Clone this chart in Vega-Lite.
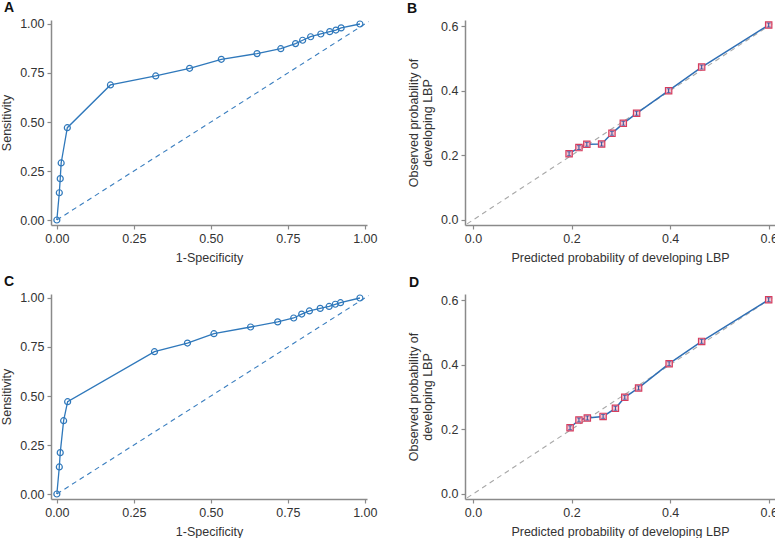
{
  "$schema": "https://vega.github.io/schema/vega-lite/v6.json",
  "autosize": {"type": "pad"},
  "padding": {"left": 0, "top": 0, "right": 0, "bottom": 0},
  "background": "white",
  "bounds": "flush",
  "columns": 2,
  "spacing": {"row": 69, "column": 98},
  "datasets": {
    "rocA": [
      {"fpr": 0, "tpr": 0}, {"fpr": 0.008, "tpr": 0.139}, {"fpr": 0.011, "tpr": 0.211}, {"fpr": 0.014, "tpr": 0.291},
      {"fpr": 0.034, "tpr": 0.471}, {"fpr": 0.174, "tpr": 0.689}, {"fpr": 0.321, "tpr": 0.735}, {"fpr": 0.431, "tpr": 0.774},
      {"fpr": 0.534, "tpr": 0.82}, {"fpr": 0.65, "tpr": 0.849}, {"fpr": 0.727, "tpr": 0.874}, {"fpr": 0.775, "tpr": 0.9},
      {"fpr": 0.798, "tpr": 0.917}, {"fpr": 0.824, "tpr": 0.935}, {"fpr": 0.857, "tpr": 0.949}, {"fpr": 0.886, "tpr": 0.961},
      {"fpr": 0.906, "tpr": 0.969}, {"fpr": 0.923, "tpr": 0.98}, {"fpr": 0.984, "tpr": 1.0}
    ],
    "rocC": [
      {"fpr": 0, "tpr": 0}, {"fpr": 0.008, "tpr": 0.138}, {"fpr": 0.011, "tpr": 0.211}, {"fpr": 0.022, "tpr": 0.374},
      {"fpr": 0.035, "tpr": 0.471}, {"fpr": 0.317, "tpr": 0.726}, {"fpr": 0.424, "tpr": 0.77}, {"fpr": 0.51, "tpr": 0.818},
      {"fpr": 0.629, "tpr": 0.852}, {"fpr": 0.717, "tpr": 0.878}, {"fpr": 0.769, "tpr": 0.898}, {"fpr": 0.795, "tpr": 0.918},
      {"fpr": 0.82, "tpr": 0.934}, {"fpr": 0.855, "tpr": 0.947}, {"fpr": 0.884, "tpr": 0.957}, {"fpr": 0.904, "tpr": 0.968},
      {"fpr": 0.921, "tpr": 0.976}, {"fpr": 0.984, "tpr": 1.0}
    ],
    "diagROC": [{"fpr": 0, "tpr": 0}, {"fpr": 1.012, "tpr": 1.012}],
    "calB": [
      {"pred": 0.195, "obs": 0.205, "lo": 0.199, "hi": 0.211}, {"pred": 0.215, "obs": 0.224, "lo": 0.218, "hi": 0.23},
      {"pred": 0.231, "obs": 0.234, "lo": 0.228, "hi": 0.24}, {"pred": 0.261, "obs": 0.235, "lo": 0.229, "hi": 0.241},
      {"pred": 0.282, "obs": 0.268, "lo": 0.262, "hi": 0.274}, {"pred": 0.305, "obs": 0.299, "lo": 0.293, "hi": 0.305},
      {"pred": 0.332, "obs": 0.33, "lo": 0.324, "hi": 0.336}, {"pred": 0.397, "obs": 0.4, "lo": 0.394, "hi": 0.406},
      {"pred": 0.464, "obs": 0.473, "lo": 0.467, "hi": 0.479}, {"pred": 0.6, "obs": 0.603, "lo": 0.597, "hi": 0.609}
    ],
    "calD": [
      {"pred": 0.197, "obs": 0.205, "lo": 0.199, "hi": 0.211}, {"pred": 0.215, "obs": 0.229, "lo": 0.223, "hi": 0.235},
      {"pred": 0.232, "obs": 0.235, "lo": 0.229, "hi": 0.241}, {"pred": 0.264, "obs": 0.24, "lo": 0.234, "hi": 0.246},
      {"pred": 0.289, "obs": 0.265, "lo": 0.259, "hi": 0.271}, {"pred": 0.308, "obs": 0.299, "lo": 0.293, "hi": 0.305},
      {"pred": 0.336, "obs": 0.328, "lo": 0.322, "hi": 0.334}, {"pred": 0.398, "obs": 0.403, "lo": 0.397, "hi": 0.409},
      {"pred": 0.464, "obs": 0.472, "lo": 0.466, "hi": 0.478}, {"pred": 0.6, "obs": 0.601, "lo": 0.595, "hi": 0.607}
    ],
    "diagCal": [{"pred": -0.012, "obs": -0.012}, {"pred": 0.615, "obs": 0.615}]
  },
  "concat": [
    {
      "width": 316, "height": 205,
      "title": {"text": "A", "dx": -47},
      "encoding": {
        "x": {"field": "fpr", "type": "quantitative", "scale": {"domain": [-0.019, 1.007], "nice": false, "zero": false}, "axis": {"values": [0, 0.25, 0.5, 0.75, 1], "format": ".2f", "title": "1-Specificity"}},
        "y": {"field": "tpr", "type": "quantitative", "scale": {"domain": [-0.0255, 1.0204], "nice": false, "zero": false}, "axis": {"values": [0, 0.25, 0.5, 0.75, 1], "format": ".2f", "title": "Sensitivity"}}
      },
      "layer": [
        {"data": {"name": "diagROC"}, "mark": {"type": "line", "color": "#3a7ebf", "strokeWidth": 1.1, "strokeDash": [5, 4], "clip": false}},
        {"data": {"name": "rocA"}, "mark": {"type": "line", "color": "#2f78bb", "strokeWidth": 1.3}},
        {"data": {"name": "rocA"}, "mark": {"type": "point", "shape": "circle", "filled": false, "size": 36, "color": "#2f78bb", "strokeWidth": 1.2, "opacity": 1}}
      ]
    },
    {
      "width": 310, "height": 205,
      "title": {"text": "B", "dx": -58},
      "encoding": {
        "x": {"field": "pred", "type": "quantitative", "scale": {"domain": [-0.0162, 0.6128], "nice": false, "zero": false}, "axis": {"values": [0, 0.2, 0.4, 0.6], "format": ".1f", "title": "Predicted probability of developing LBP"}},
        "y": {"field": "obs", "type": "quantitative", "scale": {"domain": [-0.0155, 0.6186], "nice": false, "zero": false}, "axis": {"values": [0, 0.2, 0.4, 0.6], "format": ".1f", "title": ["Observed probability of", "developing LBP"]}}
      },
      "layer": [
        {"data": {"name": "diagCal"}, "mark": {"type": "line", "color": "#a8a8a8", "strokeWidth": 1.1, "strokeDash": [5, 4], "clip": false}},
        {"data": {"name": "calB"}, "mark": {"type": "line", "color": "#2f6fb5", "strokeWidth": 1.5}},
        {"data": {"name": "calB"}, "mark": {"type": "point", "shape": "square", "filled": true, "size": 40, "fill": "#f7c3cf", "stroke": "#d63d5e", "strokeWidth": 1.2, "opacity": 1}},
        {"data": {"name": "calB"}, "mark": {"type": "errorbar", "ticks": {"size": 4, "color": "#2a4f9c"}, "rule": {"color": "#2a4f9c", "strokeWidth": 1}},
          "encoding": {"y": {"field": "lo", "type": "quantitative"}, "y2": {"field": "hi"}}}
      ]
    },
    {
      "width": 316, "height": 205,
      "title": {"text": "C", "dx": -47},
      "encoding": {
        "x": {"field": "fpr", "type": "quantitative", "scale": {"domain": [-0.019, 1.007], "nice": false, "zero": false}, "axis": {"values": [0, 0.25, 0.5, 0.75, 1], "format": ".2f", "title": "1-Specificity"}},
        "y": {"field": "tpr", "type": "quantitative", "scale": {"domain": [-0.0255, 1.0204], "nice": false, "zero": false}, "axis": {"values": [0, 0.25, 0.5, 0.75, 1], "format": ".2f", "title": "Sensitivity"}}
      },
      "layer": [
        {"data": {"name": "diagROC"}, "mark": {"type": "line", "color": "#3a7ebf", "strokeWidth": 1.1, "strokeDash": [5, 4], "clip": false}},
        {"data": {"name": "rocC"}, "mark": {"type": "line", "color": "#2f78bb", "strokeWidth": 1.3}},
        {"data": {"name": "rocC"}, "mark": {"type": "point", "shape": "circle", "filled": false, "size": 36, "color": "#2f78bb", "strokeWidth": 1.2, "opacity": 1}}
      ]
    },
    {
      "width": 310, "height": 205,
      "title": {"text": "D", "dx": -56},
      "encoding": {
        "x": {"field": "pred", "type": "quantitative", "scale": {"domain": [-0.0162, 0.6128], "nice": false, "zero": false}, "axis": {"values": [0, 0.2, 0.4, 0.6], "format": ".1f", "title": "Predicted probability of developing LBP"}},
        "y": {"field": "obs", "type": "quantitative", "scale": {"domain": [-0.0155, 0.6186], "nice": false, "zero": false}, "axis": {"values": [0, 0.2, 0.4, 0.6], "format": ".1f", "title": ["Observed probability of", "developing LBP"]}}
      },
      "layer": [
        {"data": {"name": "diagCal"}, "mark": {"type": "line", "color": "#a8a8a8", "strokeWidth": 1.1, "strokeDash": [5, 4], "clip": false}},
        {"data": {"name": "calD"}, "mark": {"type": "line", "color": "#2f6fb5", "strokeWidth": 1.5}},
        {"data": {"name": "calD"}, "mark": {"type": "point", "shape": "square", "filled": true, "size": 40, "fill": "#f7c3cf", "stroke": "#d63d5e", "strokeWidth": 1.2, "opacity": 1}},
        {"data": {"name": "calD"}, "mark": {"type": "errorbar", "ticks": {"size": 4, "color": "#2a4f9c"}, "rule": {"color": "#2a4f9c", "strokeWidth": 1}},
          "encoding": {"y": {"field": "lo", "type": "quantitative"}, "y2": {"field": "hi"}}}
      ]
    }
  ],
  "config": {
    "view": {"stroke": null},
    "font": "Liberation Sans",
    "title": {"font": "Liberation Sans", "fontSize": 14, "fontWeight": "bold", "anchor": "start", "frame": "group", "color": "#111111", "baseline": "alphabetic", "offset": 3},
    "axis": {
      "grid": false,
      "labelFont": "Liberation Sans", "labelFontSize": 12.5, "labelColor": "#333333", "labelPadding": 3,
      "titleFont": "Liberation Sans", "titleFontSize": 12.5, "titleFontWeight": "normal", "titleColor": "#333333",
      "domainColor": "#8a8a8a", "domainWidth": 1.5, "tickColor": "#8a8a8a", "tickWidth": 1.2, "tickSize": 4
    },
    "axisX": {"titlePadding": 7},
    "axisY": {"titlePadding": 6, "labelPadding": 3}
  }
}
